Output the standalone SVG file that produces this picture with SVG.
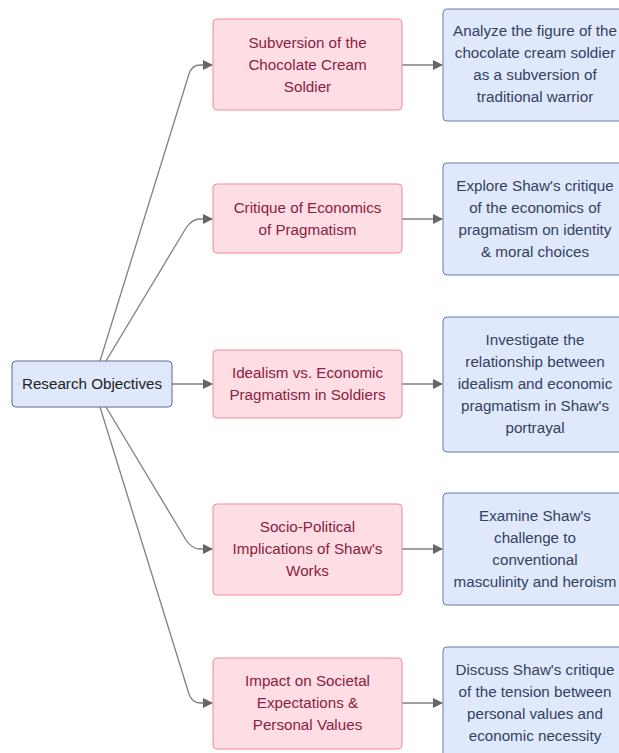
<svg xmlns="http://www.w3.org/2000/svg" width="619" height="753" viewBox="0 0 619 753">
<style>
text{font-family:"Liberation Sans",Arial,sans-serif;font-size:15.2px;text-anchor:middle}
.root rect{fill:#e0e8fc;stroke:#5a6a9a;stroke-width:1}
.root text{fill:#222}
.mid rect{fill:#ffdde4;stroke:#f08a9c;stroke-width:1}
.mid text{fill:#8b2140}
.out rect{fill:#e0e8fc;stroke:#6a7aaa;stroke-width:1}
.out text{fill:#34425f}
.edge{fill:none;stroke:#808080;stroke-width:1.3}
</style>
<defs>
<marker id="arr" viewBox="0 0 10 10" refX="9" refY="5" markerWidth="10" markerHeight="10" markerUnits="userSpaceOnUse" orient="auto">
<path d="M0,0 L10,5 L0,10 z" fill="#666"/>
</marker>
</defs>
<g id="connectors">
<path class="edge" d="M100,361 L189,74 Q192,65 200,65 L212,65" marker-end="url(#arr)"/>
<path class="edge" d="M106,361 L186,228 Q192,219 200,219 L212,219" marker-end="url(#arr)"/>
<path class="edge" d="M172,384 L212,384" marker-end="url(#arr)"/>
<path class="edge" d="M106,407 L186,540 Q192,549 200,549 L212,549" marker-end="url(#arr)"/>
<path class="edge" d="M100,407 L189,694 Q192,703 200,703 L212,703" marker-end="url(#arr)"/>
<path class="edge" d="M402,65 L442,65" marker-end="url(#arr)"/>
<path class="edge" d="M402,219 L442,219" marker-end="url(#arr)"/>
<path class="edge" d="M402,384 L442,384" marker-end="url(#arr)"/>
<path class="edge" d="M402,549 L442,549" marker-end="url(#arr)"/>
<path class="edge" d="M402,703 L442,703" marker-end="url(#arr)"/>
</g>
<g id="root" class="root">
<rect x="12" y="361" width="160" height="46" rx="4"/>
<text x="92" y="389">Research Objectives</text>
</g>
<g id="m1" class="mid">
<rect x="213" y="19" width="189" height="91" rx="4"/>
<text x="307.5" y="48">Subversion of the</text>
<text x="307.5" y="70">Chocolate Cream</text>
<text x="307.5" y="92">Soldier</text>
</g>
<g id="m2" class="mid">
<rect x="213" y="184" width="189" height="69" rx="4"/>
<text x="307.5" y="213">Critique of Economics</text>
<text x="307.5" y="235">of Pragmatism</text>
</g>
<g id="m3" class="mid">
<rect x="213" y="350" width="189" height="68" rx="4"/>
<text x="307.5" y="378">Idealism vs. Economic</text>
<text x="307.5" y="400">Pragmatism in Soldiers</text>
</g>
<g id="m4" class="mid">
<rect x="213" y="504" width="189" height="91" rx="4"/>
<text x="307.5" y="532">Socio-Political</text>
<text x="307.5" y="554">Implications of Shaw's</text>
<text x="307.5" y="576">Works</text>
</g>
<g id="m5" class="mid">
<rect x="213" y="658" width="189" height="91" rx="4"/>
<text x="307.5" y="686">Impact on Societal</text>
<text x="307.5" y="708">Expectations &amp;</text>
<text x="307.5" y="730">Personal Values</text>
</g>
<g id="o1" class="out">
<rect x="443" y="9" width="184" height="112" rx="4"/>
<text x="535" y="36">Analyze the figure of the</text>
<text x="535" y="58">chocolate cream soldier</text>
<text x="535" y="80">as a subversion of</text>
<text x="535" y="102">traditional warrior</text>
</g>
<g id="o2" class="out">
<rect x="443" y="163" width="184" height="112" rx="4"/>
<text x="535" y="191">Explore Shaw's critique</text>
<text x="535" y="213">of the economics of</text>
<text x="535" y="235">pragmatism on identity</text>
<text x="535" y="257">&amp; moral choices</text>
</g>
<g id="o3" class="out">
<rect x="443" y="317" width="184" height="135" rx="4"/>
<text x="535" y="345">Investigate the</text>
<text x="535" y="367">relationship between</text>
<text x="535" y="389">idealism and economic</text>
<text x="535" y="411">pragmatism in Shaw's</text>
<text x="535" y="433">portrayal</text>
</g>
<g id="o4" class="out">
<rect x="443" y="493" width="184" height="112" rx="4"/>
<text x="535" y="521">Examine Shaw's</text>
<text x="535" y="543">challenge to</text>
<text x="535" y="565">conventional</text>
<text x="535" y="587">masculinity and heroism</text>
</g>
<g id="o5" class="out">
<rect x="443" y="647" width="184" height="112" rx="4"/>
<text x="535" y="675">Discuss Shaw's critique</text>
<text x="535" y="697">of the tension between</text>
<text x="535" y="719">personal values and</text>
<text x="535" y="741">economic necessity</text>
</g>
</svg>
